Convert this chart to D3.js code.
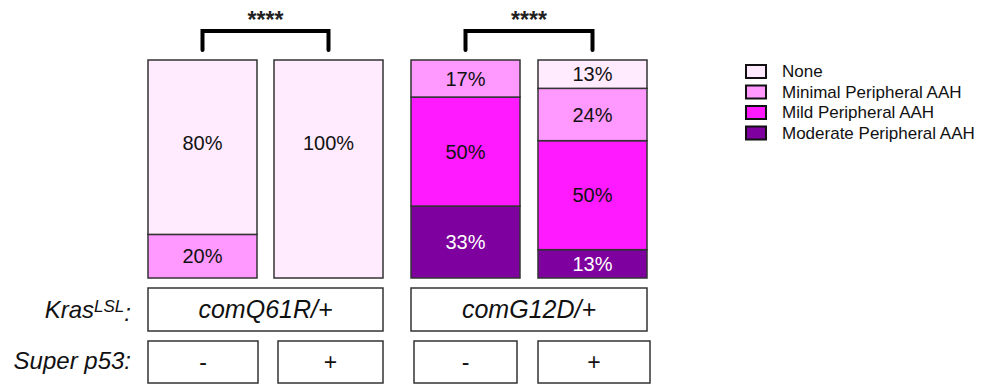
<!DOCTYPE html>
<html><head><meta charset="utf-8">
<script src="https://cdn.jsdelivr.net/npm/d3@7"></script>
<style>body{margin:0;background:#fff}svg{display:block}text{font-family:"Liberation Sans",Arial,sans-serif}</style>
</head><body><svg id="c" width="995" height="385"></svg>
<script>
const categories = ["comQ61R/+ -", "comQ61R/+ +", "comG12D/+ -", "comG12D/+ +"];
const severities = ["Moderate Peripheral AAH", "Mild Peripheral AAH", "Minimal Peripheral AAH", "None"];
const legendOrder = ["None", "Minimal Peripheral AAH", "Mild Peripheral AAH", "Moderate Peripheral AAH"];
const moderate = [0, 0, 33, 13];
const mild = [0, 0, 50, 50];
const minimal = [20, 0, 17, 24];
const none = [80, 100, 0, 13];
const krasGroups = ["comQ61R/+", "comG12D/+"];
const p53Labels = ["-", "+", "-", "+"];
const sigLabels = ["****", "****"];
const colors = {"None":"#FFEAFE","Minimal Peripheral AAH":"#FF99FF","Mild Peripheral AAH":"#FF1AFF","Moderate Peripheral AAH":"#7E009E"};

const svg = d3.select("#c");
const rows = categories.map((c,i)=>({cat:c,"Moderate Peripheral AAH":moderate[i],"Mild Peripheral AAH":mild[i],"Minimal Peripheral AAH":minimal[i],"None":none[i]}));
const stack = d3.stack().keys(severities)(rows);

const x = d3.scaleOrdinal().domain(categories).range([148, 274, 411, 538]);
const bw = 109;
const y = d3.scaleLinear().domain([0,100]).range([278, 60]);

const layers = svg.append("g").selectAll("g").data(stack).join("g")
  .attr("fill", d=>colors[d.key]);
layers.selectAll("rect").data(d=>d.map(v=>({v, key:d.key}))).join("rect")
  .filter(d=>d.v[1]-d.v[0]>0)
  .attr("x", d=>x(d.v.data.cat)).attr("width", bw)
  .attr("y", d=>y(d.v[1])).attr("height", d=>y(d.v[0])-y(d.v[1]))
  .attr("stroke","#333").attr("stroke-width",1.5);

layers.selectAll("text").data(d=>d.map(v=>({v, key:d.key}))).join("text")
  .filter(d=>d.v[1]-d.v[0]>0)
  .attr("x", d=>x(d.v.data.cat)+bw/2)
  .attr("y", d=>Math.min((y(d.v[0])+y(d.v[1]))/2, y(d.v[1])+83))
  .attr("dy","0.35em").attr("text-anchor","middle")
  .attr("font-size",20)
  .attr("fill", d=>d.key==="Moderate Peripheral AAH"?"#fff":"#111")
  .text(d=>Math.round(d.v[1]-d.v[0])+"%");

// significance brackets
const pairs = [[0,1],[2,3]];
pairs.forEach((p,i)=>{
  const x1 = x(categories[p[0]])+bw/2, x2 = x(categories[p[1]])+bw/2;
  svg.append("path").attr("d",`M${x1},50V31H${x2}V50`)
    .attr("fill","none").attr("stroke","#000").attr("stroke-width",4).attr("stroke-linecap","round");
  svg.append("text").attr("x",(x1+x2)/2).attr("y",27.5).attr("text-anchor","middle")
    .attr("font-size",23).attr("font-weight","bold").attr("fill","#222").text(sigLabels[i]);
});

// Kras row
krasGroups.forEach((g,i)=>{
  const xa = x(categories[i*2]), xb = x(categories[i*2+1])+bw;
  svg.append("rect").attr("x",xa).attr("y",288).attr("width",xb-xa).attr("height",43)
    .attr("fill","#fff").attr("stroke","#333").attr("stroke-width",1.5);
  svg.append("text").attr("x",(xa+xb)/2).attr("y",309.5).attr("dy","0.35em").attr("text-anchor","middle")
    .attr("font-size",25).attr("font-style","italic").attr("fill","#111").text(g);
});
// p53 row
const p53x = [[148,258],[278,383],[414,517],[538,650]];
p53Labels.forEach((l,i)=>{
  const [xa,xb] = p53x[i];
  svg.append("rect").attr("x",xa).attr("y",341).attr("width",xb-xa).attr("height",42)
    .attr("fill","#fff").attr("stroke","#333").attr("stroke-width",1.5);
  svg.append("text").attr("x",(xa+xb)/2).attr("y",362).attr("dy","0.35em").attr("text-anchor","middle")
    .attr("font-size",23).attr("fill","#111").text(l);
});
// row labels
const kl = svg.append("text").attr("x",131).attr("y",310).attr("dy","0.35em").attr("text-anchor","end")
  .attr("font-size",24).attr("font-style","italic").attr("fill","#111");
kl.append("tspan").text("Kras");
kl.append("tspan").attr("dy","-0.4em").attr("font-size",17).text("LSL");
kl.append("tspan").attr("dy","0.4em").text(":");
svg.append("text").attr("x",131).attr("y",361).attr("dy","0.35em").attr("text-anchor","end")
  .attr("font-size",24).attr("font-style","italic").attr("fill","#111").text("Super p53:");

// legend
const lg = svg.append("g").selectAll("g").data(legendOrder).join("g")
  .attr("transform",(d,i)=>`translate(746,${65+i*20.5})`);
lg.append("rect").attr("width",20).attr("height",13).attr("fill",d=>colors[d]).attr("stroke","#111").attr("stroke-width",2);
lg.append("text").attr("x",36).attr("y",6.5).attr("dy","0.35em").attr("font-size",17).attr("fill","#111").text(d=>d);
</script></body></html>
